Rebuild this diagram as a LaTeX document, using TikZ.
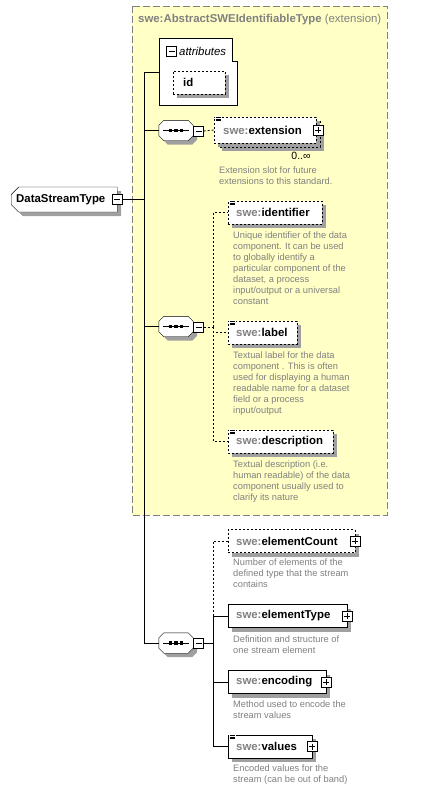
\documentclass[tikz,border=0pt]{standalone}
\usepackage{fontspec}
\setmainfont{Liberation Sans}
\usetikzlibrary{shapes.misc,shadows}
\definecolor{compyellow}{RGB}{255,255,198}
\definecolor{xsdgray}{RGB}{128,128,128}
\definecolor{shadegray}{RGB}{160,160,160}
\begin{document}
\begin{tikzpicture}[x=1pt,y=-1pt,
  elem/.style={draw, fill=white, minimum height=23pt, inner xsep=8pt, inner ysep=0pt,
    align=left, anchor=west, font=\fontsize{11.4}{13}\selectfont\bfseries,
    general shadow={fill=shadegray, shadow xshift=4pt, shadow yshift=-4pt}},
  opt/.style={dash pattern=on 2pt off 2pt},
  note/.style={anchor=north west, inner sep=0pt, align=left, text=xsdgray,
    font=\fontsize{9.3}{11}\selectfont},
  togglebox/.style={draw, fill=white, minimum size=10pt, inner sep=0pt},
  minusbox/.style={togglebox, path picture={\draw ([xshift=2pt]path picture bounding box.west)
    -- ([xshift=-2pt]path picture bounding box.east);}},
  plusbox/.style={togglebox, path picture={\draw ([xshift=2pt]path picture bounding box.west)
    -- ([xshift=-2pt]path picture bounding box.east) ([yshift=-2pt]path picture bounding box.north)
    -- ([yshift=2pt]path picture bounding box.south);}},
  seqbox/.style={rectangle, minimum width=34pt, minimum height=20pt, inner sep=0pt},
  link/.style={line width=0.8pt}]
  \useasboundingbox (0,0) rectangle (429,792);

  % extension base
  \draw[fill=compyellow, draw=xsdgray, dash pattern=on 7pt off 3pt] (132,6) rectangle (387,515);
  \node[anchor=west, inner sep=0pt, text=xsdgray, font=\fontsize{11.4}{13}\selectfont] (base) at (138,19.5)
    {\bfseries swe:AbstractSWEIdentifiableType\mdseries{} (extension)};

  % attributes
  \draw[fill=white] (159,38) -- (232,38) -- (232,61) -- (237,61) -- (237,105) -- (159,105) -- cycle;
  \coordinate (attr) at (159,72);
  \node[minusbox] (attrm) at (171.5,51) {};
  \node[anchor=west, inner sep=0pt, font=\fontsize{11.4}{13}\selectfont\itshape] (attrt) at (179,51) {attributes};
  \node[elem, opt, inner xsep=10pt, text width=32pt] (id) at (173,82.5) {id};

  % root
  \node[elem, chamfered rectangle, chamfered rectangle corners={north west,south west},
    chamfered rectangle xsep=4pt, minimum height=25pt, inner xsep=1pt, text width=96pt] (dst) at (11,199.5) {DataStreamType};
  \node[minusbox] (dstm) at (dst.east) {};
  \coordinate (trunk) at (144,199.5);

  % sequences
  \node[seqbox] (seqa) at (176,130.5) {};
  \node[seqbox] (seqb) at (176,326.5) {};
  \node[seqbox] (seqc) at (176,643) {};
  \foreach \s in {seqa,seqb,seqc} {
    \fill[shadegray] ([shift={(9,4)}]\s.north west) -- ([shift={(-1,4)}]\s.north east) -- ([shift={(4,9)}]\s.north east)
      -- ([shift={(4,-1)}]\s.south east) -- ([shift={(-1,4)}]\s.south east) -- ([shift={(9,4)}]\s.south west)
      -- ([shift={(4,-1)}]\s.south west) -- ([shift={(4,9)}]\s.north west) -- cycle;
    \draw[fill=white] ([xshift=5pt]\s.north west) -- ([xshift=-5pt]\s.north east) -- ([yshift=-5pt]\s.north east)
      -- ([yshift=5pt]\s.south east) -- ([xshift=-5pt]\s.south east) -- ([xshift=5pt]\s.south west)
      -- ([yshift=5pt]\s.south west) -- ([yshift=-5pt]\s.north west) -- cycle;
    \draw[line width=0.8pt] ([xshift=4pt]\s.west) -- ([xshift=-4pt]\s.east);
    \foreach \d in {-5.5,0,5.5}
      \fill ([xshift=\d pt]\s.center) +(-1.7pt,-1.7pt) rectangle +(1.7pt,1.7pt);
  }
  \node[minusbox] (seqam) at (198.5,131) {};
  \node[minusbox] (seqbm) at (198.5,327) {};
  \node[minusbox] (seqcm) at (198.5,643) {};

  % sequence 1
  \draw[opt, fill=white, general shadow={fill=shadegray, shadow xshift=4pt, shadow yshift=-4pt}] (218,121) rectangle (320,147);
  \node[elem, opt, minimum height=26pt, inner xsep=9pt, text width=84pt] (ext) at (214,130)
    {\textcolor{xsdgray}{swe:}extension};
  \node[plusbox] (extp) at ([xshift=2pt]ext.east) {};
  \node[anchor=center, inner sep=0pt, font=\fontsize{10.5}{12}\selectfont] (extn) at (301,156) {0..∞};
  \node[note] (extd) at (219,167) {Extension slot for future\\extensions to this standard.};

  % sequence 2
  \coordinate (jb) at (213,327);
  \node[elem, opt, text width=78pt] (ident) at (228,212.5) {\textcolor{xsdgray}{swe:}identifier};
  \node[note] (identd) at (233,232) {Unique identifier of the data\\component. It can be used\\to globally identify a\\particular component of the\\dataset, a process\\input/output or a universal\\constant};
  \node[elem, opt, text width=53pt] (label) at (228,332.5) {\textcolor{xsdgray}{swe:}label};
  \node[note] (labeld) at (233,352) {Textual label for the data\\component . This is often\\used for displaying a human\\readable name for a dataset\\field or a process\\input/output};
  \node[elem, opt, text width=89pt] (desc) at (228,441.5) {\textcolor{xsdgray}{swe:}description};
  \node[note] (descd) at (233,461) {Textual description (i.e.\\human readable) of the data\\component usually used to\\clarify its nature};

  % sequence 3
  \coordinate (jc) at (213,643);
  \coordinate (jct) at (213,616);
  \node[elem, opt, text width=111pt] (ecount) at (228,541) {\textcolor{xsdgray}{swe:}elementCount};
  \node[plusbox] (ecountp) at (ecount.east) {};
  \node[note] (ecountd) at (233,559) {Number of elements of the\\defined type that the stream\\contains};
  \node[elem, text width=103pt] (etype) at (228,616) {\textcolor{xsdgray}{swe:}elementType};
  \node[plusbox] (etypep) at (etype.east) {};
  \node[note] (etyped) at (233,636) {Definition and structure of\\one stream element};
  \node[elem, text width=82pt] (enc) at (228,682) {\textcolor{xsdgray}{swe:}encoding};
  \node[plusbox] (encp) at (enc.east) {};
  \node[note] (encd) at (233,701) {Method used to encode the\\stream values};
  \node[elem, text width=68pt] (vals) at (228,746.5) {\textcolor{xsdgray}{swe:}values};
  \node[plusbox] (valsp) at (vals.east) {};
  \node[note] (valsd) at (233,765) {Encoded values for the\\stream (can be out of band)};

  % list icons
  \foreach \n in {ext,ident,label,desc,vals} {
    \fill[white] ([shift={(1,-1)}]\n.north west) rectangle ([shift={(8,5)}]\n.north west);
    \foreach \k in {0.5,2,3.5}
      \draw[line width=0.6pt] ([shift={(1.5,\k)}]\n.north west) -- ++(5.5,0);
  }

  % connectors
  \draw[link] (dstm.east) -- (trunk);
  \draw[link] (trunk) |- (attr);
  \draw[link] (trunk) |- (seqa.west);
  \draw[link] (trunk) |- (seqb.west);
  \draw[link] (trunk) |- (seqc.west);
  \draw[link, opt] (seqam.east) -- (ext.west);
  \draw[link, opt] (seqbm.east) -- (jb);
  \draw[link, opt] (jb) |- (ident.west);
  \draw[link, opt] (jb) |- (label.west);
  \draw[link, opt] (jb) |- (desc.west);
  \draw[link] (seqcm.east) -- (jc);
  \draw[link] (jc) |- (etype.west);
  \draw[link] (jc) |- (enc.west);
  \draw[link] (jc) |- (vals.west);
  \draw[link, opt] (jct) |- (ecount.west);
\end{tikzpicture}
\end{document}
